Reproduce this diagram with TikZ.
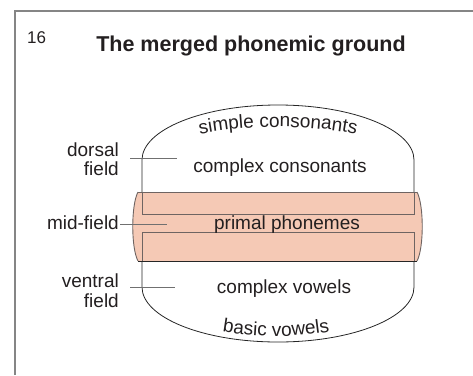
\documentclass[tikz,border=0pt]{standalone}
\usepackage{fontspec}
\setmainfont{Liberation Sans}
\usetikzlibrary{decorations.text}
\definecolor{txt}{HTML}{231F20}
\definecolor{framecol}{HTML}{858585}
\definecolor{pinkfill}{HTML}{F5C9B5}
\definecolor{bandedge}{HTML}{6E6462}
\definecolor{leadcol}{HTML}{707070}
\tikzset{
  lbl/.style={inner sep=0pt, text=txt, font=\fontsize{19}{21}\selectfont},
  fieldlbl/.style={lbl, align=right, anchor=base east},
  leader/.style={draw=leadcol, line width=0.9pt},
  outline/.style={draw=black!85, line width=0.8pt},
  bandline/.style={draw=bandedge, line width=0.9pt},
}
\begin{document}
\begin{tikzpicture}[x=1pt,y=-1pt]
\useasboundingbox (0,0) rectangle (473,375);
% frame
\coordinate (fbl) at (15,375);
\coordinate (ftl) at (15,11);
\coordinate (ftr) at (473,11);
\draw[framecol, line width=1.3pt] (fbl) -- (ftl) -- (ftr);
% number and title
\node[inner sep=0pt, anchor=base west, text=txt, font=\fontsize{17}{19}\selectfont] (num) at (27,43) {16};
\node[inner sep=0pt, anchor=base, text=txt, font=\fontsize{21.5}{24}\selectfont\bfseries] (title) at (251,51) {The merged phonemic ground};
% outer shape
\coordinate (tl) at (142,160);
\coordinate (tr) at (414,160);
\coordinate (br) at (414,287);
\coordinate (bl) at (142,287);
\draw[outline] (tl) .. controls (142,129.6) and (202.9,105) .. (278,105)
  .. controls (353.1,105) and (414,129.6) .. (tr) -- (br)
  .. controls (414,317.4) and (353.1,342) .. (278,342)
  .. controls (202.9,342) and (142,317.4) .. (bl) -- cycle;
% pink band
\fill[pinkfill] (138,192) -- (417,192) .. controls (424,205) and (424,248) .. (417,261)
  -- (138,261) .. controls (131,248) and (131,205) .. cycle;
\draw[bandline] (417,192) .. controls (424,205) and (424,248) .. (417,261);
\draw[bandline] (138,192) .. controls (131,205) and (131,248) .. (138,261);
\draw[bandline] (138,192) -- (417,192);
\draw[bandline] (142,192) -- (142,214) -- (414,214) -- (414,192);
\draw[bandline] (142,261) -- (142,232) -- (414,232) -- (414,261);
\draw[draw=black!85, line width=0.9pt] (138,261) -- (417,261);
% curved texts
\path[decorate, decoration={text along path, text align=center,
   text={|\fontsize{19}{19}\selectfont\color{txt}|simple consonants}}]
  (153,160) .. controls (153,141.8) and (209,127) .. (278,127)
  .. controls (347,127) and (403,141.8) .. (403,160);
\path[decorate, decoration={text along path, text align=center,
   text={|\fontsize{19}{19}\selectfont\color{txt}|basic vowels}}]
  (146,287) .. controls (146,314) and (205,336) .. (276,336)
  .. controls (347,336) and (406,314) .. (406,287);
% inner texts
\node[lbl, anchor=base] (cc) at (280,172.5) {complex consonants};
\node[lbl, anchor=base] (pp) at (287,229) {primal phonemes};
\node[lbl, anchor=base] (cv) at (284,293) {complex vowels};
% field labels
\node[fieldlbl] (dorsal) at (119,175.5) {dorsal\\[-1.5pt]field};
\node[lbl, anchor=base east] (mid) at (119,229.5) {mid-field};
\node[fieldlbl] (ventral) at (119,307) {ventral\\[-1.5pt]field};
% leader lines
\coordinate (d1) at (130,158);
\coordinate (d2) at (177,158);
\coordinate (m1) at (120,224);
\coordinate (m2) at (167,224);
\coordinate (v1) at (130,287);
\coordinate (v2) at (175,287);
\draw[leader] (d1) -- (d2);
\draw[leader] (m1) -- (m2);
\draw[leader] (v1) -- (v2);
\end{tikzpicture}
\end{document}
